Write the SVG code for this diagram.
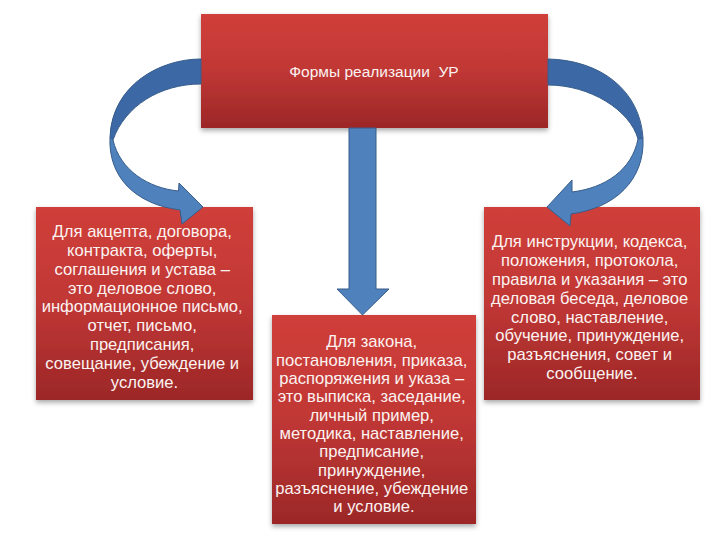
<svg xmlns="http://www.w3.org/2000/svg" width="720" height="540" viewBox="0 0 720 540">
  <defs>
    <linearGradient id="redGrad" x1="0" y1="0" x2="0" y2="1">
      <stop offset="0" stop-color="#d03f3a"/>
      <stop offset="0.5" stop-color="#c03735"/>
      <stop offset="1" stop-color="#9c2727"/>
    </linearGradient>
    <filter id="shadow" x="-10%" y="-10%" width="120%" height="125%">
      <feDropShadow dx="0" dy="2.5" stdDeviation="2.5" flood-color="#000" flood-opacity="0.35"/>
    </filter>
  </defs>
  <style>
    .box { fill: url(#redGrad); filter: url(#shadow); }
    .txt { font-family: "Liberation Sans", Arial, sans-serif; font-size: 16.6px; fill: #fbf3f1; text-anchor: middle; }
    .title { font-size: 15.5px; }
    .back { fill: #3c69a6; stroke: #385d8a; stroke-width: 1; stroke-linejoin: round; }
    .front { fill: #4f81bd; stroke: #385d8a; stroke-width: 1; stroke-linejoin: round; }
  </style>
  <rect width="720" height="540" fill="#ffffff"/>

  <g id="node-top">
    <rect class="box" x="201" y="14" width="347" height="114"/>
    <text class="txt title" x="374" y="77" xml:space="preserve">Формы реализации  УР</text>
  </g>

  <g id="node-left">
    <rect class="box" x="36" y="207" width="217" height="193"/>
    <text class="txt">
      <tspan x="144.5" y="236.5">Для акцепта, договора,</tspan>
      <tspan x="144.5" y="255.5">контракта, оферты,</tspan>
      <tspan x="144.5" y="274.5">соглашения и устава –</tspan>
      <tspan x="144.5" y="293.5">это деловое слово,</tspan>
      <tspan x="144.5" y="312">информационное письмо,</tspan>
      <tspan x="144.5" y="331">отчет, письмо,</tspan>
      <tspan x="144.5" y="350">предписания,</tspan>
      <tspan x="144.5" y="369">совещание, убеждение и</tspan>
      <tspan x="144.5" y="388">условие.</tspan>
    </text>
  </g>

  <g id="node-right">
    <rect class="box" x="484" y="207" width="216" height="193"/>
    <text class="txt">
      <tspan x="592" y="247">Для инструкции, кодекса,</tspan>
      <tspan x="592" y="266">положения, протокола,</tspan>
      <tspan x="592" y="284.5">правила и указания – это</tspan>
      <tspan x="592" y="303.5">деловая беседа, деловое</tspan>
      <tspan x="592" y="322.5">слово, наставление,</tspan>
      <tspan x="592" y="341">обучение, принуждение,</tspan>
      <tspan x="592" y="360">разъяснения, совет и</tspan>
      <tspan x="592" y="378.5">сообщение.</tspan>
    </text>
  </g>

  <g id="node-middle">
    <rect class="box" x="272" y="315" width="204" height="209"/>
    <text class="txt">
      <tspan x="374" y="347">Для закона,</tspan>
      <tspan x="374" y="365.5">постановления, приказа,</tspan>
      <tspan x="374" y="383.5">распоряжения и указа –</tspan>
      <tspan x="374" y="402">это выписка, заседание,</tspan>
      <tspan x="374" y="420.5">личный пример,</tspan>
      <tspan x="374" y="438.5">методика, наставление,</tspan>
      <tspan x="374" y="457">предписание,</tspan>
      <tspan x="374" y="475.5">принуждение,</tspan>
      <tspan x="374" y="493.5">разъяснение, убеждение</tspan>
      <tspan x="374" y="512">и условие.</tspan>
    </text>
  </g>

  <g id="connectors">
    <!-- left curved arrow -->
    <path class="back" d="M201,59 C160,59 112,85 110,137 L113,140 C125,106 160,84 201,84 Z"/>
    <path class="front" d="M110,137 C108,176 134,204 180,210 L182,224 L203,207 L179,183 L178.5,191 C148,188 120,170 113,140 Z"/>
    <!-- right curved arrow -->
    <path class="back" d="M548,59 C600,60 640,90 643,138 L638,139 C630,110 590,85 548,85 Z"/>
    <path class="front" d="M643,138 C645,180 615,208 571,214 L570,226 L547,207 L572,180 L572,192 C605,188 632,170 638,139 Z"/>
    <!-- middle straight arrow -->
    <path class="front" d="M349,128 L376,128 L376,289 L389,289 L362.5,315 L337,289 L349,289 Z"/>
  </g>
</svg>
